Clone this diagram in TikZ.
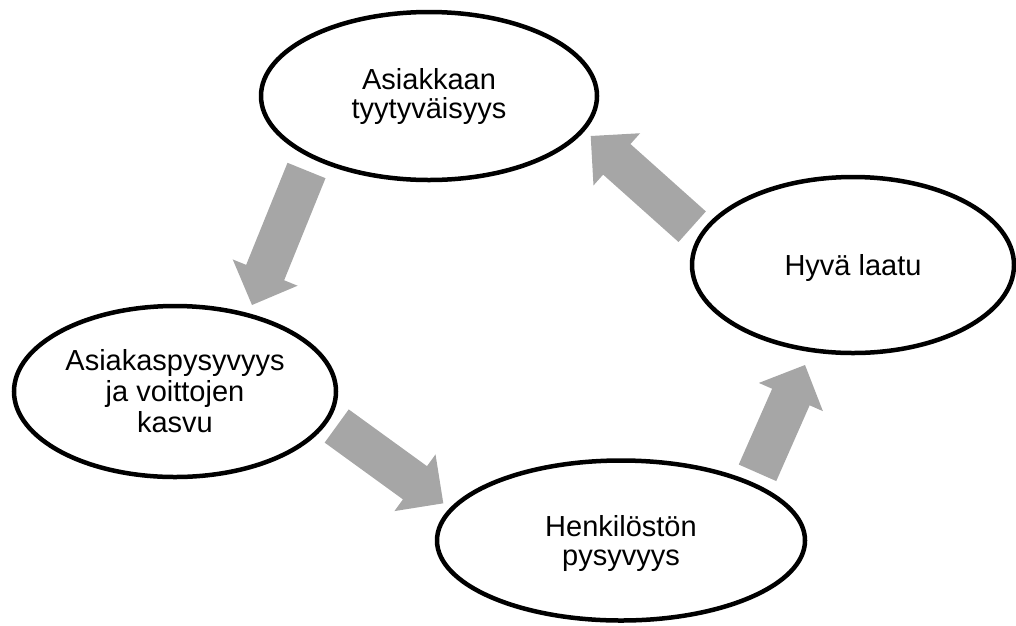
\documentclass[tikz,border=0pt]{standalone}
\usepackage{fontspec}
\setmainfont{Liberation Sans}
\usetikzlibrary{shapes.geometric,calc}
\definecolor{arrowgray}{RGB}{166,166,166}
\tikzset{
  bubble/.style={ellipse, draw=black, line width=4.5pt, fill=white, inner sep=0pt,
    align=center, font=\fontsize{29}{29}\selectfont},
  blockarrow/.style={fill=arrowgray, draw=none, to path={
    ($(\tikztostart)!20.5pt!90:(\tikztotarget)$)
    -- ($(\tikztotarget)!35pt!(\tikztostart)!20.5pt!-90:(\tikztostart)$)
    -- ($(\tikztotarget)!35pt!(\tikztostart)!35pt!-90:(\tikztostart)$)
    -- (\tikztotarget)
    -- ($(\tikztotarget)!35pt!(\tikztostart)!35pt!90:(\tikztostart)$)
    -- ($(\tikztotarget)!35pt!(\tikztostart)!20.5pt!90:(\tikztostart)$)
    -- ($(\tikztostart)!20.5pt!-90:(\tikztotarget)$) -- cycle}}
}
\begin{document}
\begin{tikzpicture}[x=1pt,y=-1pt]
\useasboundingbox (0,0) rectangle (1016,625);
% arrow end points
\coordinate (a1s) at (306.5,170.5);
\coordinate (a1e) at (252,305);
\coordinate (a2s) at (692.2,226.7);
\coordinate (a2e) at (590.7,136);
\coordinate (a3s) at (336.7,426);
\coordinate (a3e) at (443.3,503.3);
\coordinate (a4s) at (757.5,472.8);
\coordinate (a4e) at (805,365);
\path[blockarrow] (a1s) to (a1e);
\path[blockarrow] (a2s) to (a2e);
\path[blockarrow] (a3s) to (a3e);
\path[blockarrow] (a4s) to (a4e);
% ellipses
\node[bubble, minimum width=336pt, minimum height=168pt] (sat) at (429,96) {Asiakkaan\\tyytyväisyys};
\node[bubble, minimum width=322pt, minimum height=176pt, text depth=0pt] (qual) at (853,265) {Hyvä laatu};
\node[bubble, minimum width=322pt, minimum height=171pt, font=\fontsize{29}{31}\selectfont] (cust) at (175,391.5) {Asiakaspysyvyys\\ja voittojen\\kasvu};
\node[bubble, minimum width=368pt, minimum height=160pt, text depth=0pt] (staff) at (621,540.5) {Henkilöstön\\pysyvyys};
\end{tikzpicture}
\end{document}
